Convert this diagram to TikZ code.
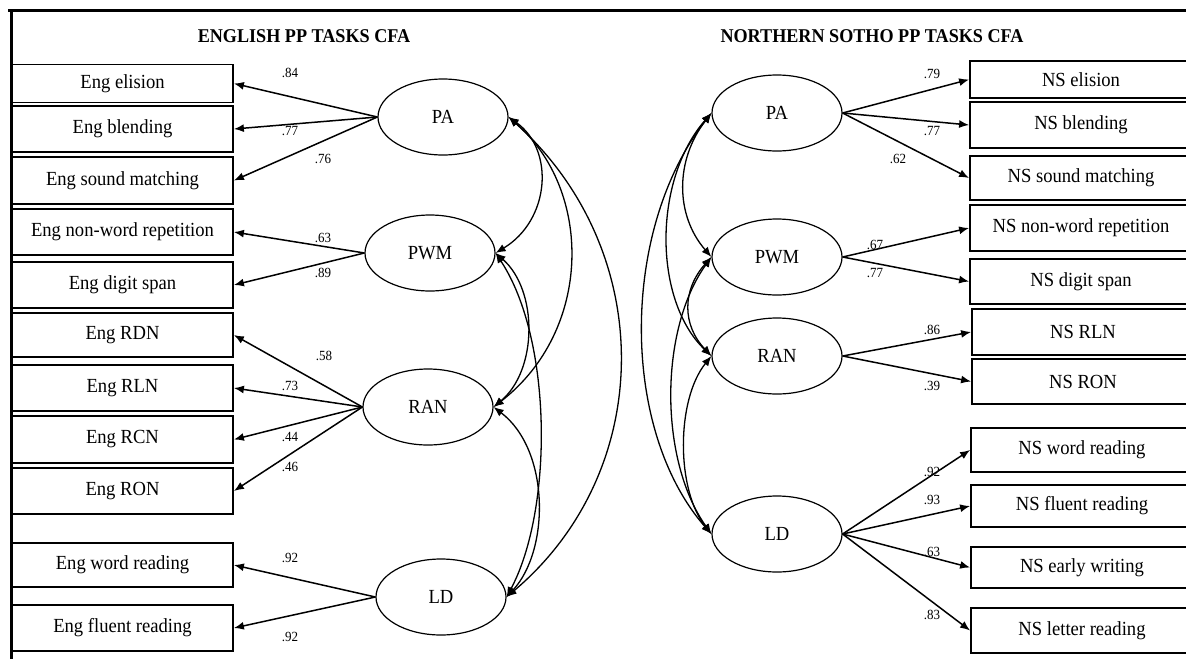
\documentclass[tikz,border=0pt]{standalone}
\usepackage{fontspec}
\setmainfont{Liberation Serif}[FakeStretch=0.93]
\usetikzlibrary{arrows.meta,shapes.geometric}
\begin{document}
\begin{tikzpicture}[x=1pt,y=1pt,
  obsbox/.style={draw,line width=1.8pt,minimum width=221pt,inner sep=0pt,font=\fontsize{20}{24}\selectfont},
  latent/.style={draw,ellipse,line width=1.2pt,minimum width=130pt,minimum height=76pt,inner sep=0pt,font=\fontsize{20}{24}\selectfont},
  loading/.style={line width=1.5pt,-{Latex[length=10pt,width=8pt]}},
  cov/.style={line width=1.3pt,{Latex[length=10pt,width=8pt]}-{Latex[length=10pt,width=8pt]}},
  coef/.style={inner sep=0pt,font=\fontsize{14}{16}\selectfont},
  heading/.style={inner sep=0pt,font=\fontsize{19.5}{23}\selectfont\bfseries}]
\useasboundingbox (0,0) rectangle (1186,-659);

% frame
\draw[line width=3pt] (8,-10) -- (1186,-10);
\draw[line width=3pt] (11,-10) -- (11,-659);

% headings
\node[heading] (tEng) at (304,-36) {ENGLISH PP TASKS CFA};
\node[heading] (tNS) at (872,-36) {NORTHERN SOTHO PP TASKS CFA};

% English indicators
\node[obsbox,minimum height=38pt] (e1) at (122.5,-83.5) {Eng elision};
\node[obsbox,minimum height=46pt] (e2) at (122.5,-129) {Eng blending};
\node[obsbox,minimum height=47pt] (e3) at (122.5,-180.5) {Eng sound matching};
\node[obsbox,minimum height=46pt] (e4) at (122.5,-232) {Eng non-word repetition};
\node[obsbox,minimum height=46pt] (e5) at (122.5,-285) {Eng digit span};
\node[obsbox,minimum height=44pt] (e6) at (122.5,-335) {Eng RDN};
\node[obsbox,minimum height=46pt] (e7) at (122.5,-388) {Eng RLN};
\node[obsbox,minimum height=47pt] (e8) at (122.5,-439.5) {Eng RCN};
\node[obsbox,minimum height=46pt] (e9) at (122.5,-491) {Eng RON};
\node[obsbox,minimum height=44pt] (e10) at (122.5,-565) {Eng word reading};
\node[obsbox,minimum height=46pt] (e11) at (122.5,-628) {Eng fluent reading};

% English factors
\node[latent] (PAL) at (443,-117) {PA};
\node[latent] (PWML) at (430,-253) {PWM};
\node[latent] (RANL) at (428,-407) {RAN};
\node[latent] (LDL) at (441,-597) {LD};

% Northern Sotho indicators
\node[obsbox,minimum width=222pt,minimum height=37pt] (n1) at (1081,-79.5) {NS elision};
\node[obsbox,minimum width=222pt,minimum height=46pt] (n2) at (1081,-125) {NS blending};
\node[obsbox,minimum width=222pt,minimum height=44pt] (n3) at (1081,-178) {NS sound matching};
\node[obsbox,minimum width=222pt,minimum height=46pt] (n4) at (1081,-228) {NS non-word repetition};
\node[obsbox,minimum width=222pt,minimum height=45pt] (n5) at (1081,-281.5) {NS digit span};
\node[obsbox,minimum width=222pt,minimum height=46pt] (n6) at (1083,-332) {NS RLN};
\node[obsbox,minimum width=222pt,minimum height=45pt] (n7) at (1083,-381.5) {NS RON};
\node[obsbox,minimum width=222pt,minimum height=44pt] (n8) at (1082,-450) {NS word reading};
\node[obsbox,minimum width=222pt,minimum height=42pt] (n9) at (1082,-506) {NS fluent reading};
\node[obsbox,minimum width=222pt,minimum height=41pt] (n10) at (1082,-567.5) {NS early writing};
\node[obsbox,minimum width=222pt,minimum height=45pt] (n11) at (1082,-630.5) {NS letter reading};

% Northern Sotho factors
\node[latent] (PAR) at (777,-113) {PA};
\node[latent] (PWMR) at (777,-257) {PWM};
\node[latent] (RANR) at (777,-356) {RAN};
\node[latent] (LDR) at (777,-534) {LD};

% English loadings
\draw[loading] (PAL.west) -- (e1.east);
\draw[loading] (PAL.west) -- (e2.east);
\draw[loading] (PAL.west) -- (e3.east);
\draw[loading] (PWML.west) -- (e4.east);
\draw[loading] (PWML.west) -- (e5.east);
\draw[loading] (RANL.west) -- (e6.east);
\draw[loading] (RANL.west) -- (e7.east);
\draw[loading] (RANL.west) -- (e8.east);
\draw[loading] (RANL.west) -- (e9.east);
\draw[loading] (LDL.west) -- (e10.east);
\draw[loading] (LDL.west) -- (e11.east);

% Northern Sotho loadings
\draw[loading] (PAR.east) -- (n1.west);
\draw[loading] (PAR.east) -- (n2.west);
\draw[loading] (PAR.east) -- (n3.west);
\draw[loading] (PWMR.east) -- (n4.west);
\draw[loading] (PWMR.east) -- (n5.west);
\draw[loading] (RANR.east) -- (n6.west);
\draw[loading] (RANR.east) -- (n7.west);
\draw[loading] (LDR.east) -- (n8.west);
\draw[loading] (LDR.east) -- (n9.west);
\draw[loading] (LDR.east) -- (n10.west);
\draw[loading] (LDR.east) -- (n11.west);

% English factor covariances
\draw[cov] (PAL.east) .. controls (555,-150) and (550,-220) .. (PWML.east);
\draw[cov] (PAL.east) .. controls (593,-190) and (593,-330) .. (RANL.east);
\draw[cov] (PAL.east) .. controls (657,-250) and (657,-470) .. (LDL.east);
\draw[cov] (PWML.east) .. controls (538,-290) and (538,-370) .. (RANL.east);
\draw[cov] (PWML.east) .. controls (553,-340) and (553,-510) .. (LDL.east);
\draw[cov] (RANL.east) .. controls (550,-450) and (550,-550) .. (LDL.east);

% Northern Sotho factor covariances
\draw[cov] (PAR.west) .. controls (675,-160) and (675,-215) .. (PWMR.west);
\draw[cov] (PAR.west) .. controls (653,-180) and (653,-300) .. (RANR.west);
\draw[cov] (PAR.west) .. controls (620,-230) and (620,-430) .. (LDR.west);
\draw[cov] (PWMR.west) .. controls (682,-290) and (682,-325) .. (RANR.west);
\draw[cov] (PWMR.west) .. controls (659,-330) and (659,-460) .. (LDR.west);
\draw[cov] (RANR.west) .. controls (676,-400) and (676,-490) .. (LDR.west);

% English coefficients
\node[coef] (c1) at (290,-73) {.84};
\node[coef] (c2) at (290,-131) {.77};
\node[coef] (c3) at (323,-159) {.76};
\node[coef] (c4) at (323,-238) {.63};
\node[coef] (c5) at (323,-273) {.89};
\node[coef] (c6) at (324,-356) {.58};
\node[coef] (c7) at (290,-386) {.73};
\node[coef] (c8) at (290,-437) {.44};
\node[coef] (c9) at (290,-467) {.46};
\node[coef] (c10) at (290,-558) {.92};
\node[coef] (c11) at (290,-637) {.92};

% Northern Sotho coefficients
\node[coef] (d1) at (932,-74) {.79};
\node[coef] (d2) at (932,-131) {.77};
\node[coef] (d3) at (898,-159) {.62};
\node[coef] (d4) at (875,-245) {.67};
\node[coef] (d5) at (875,-273) {.77};
\node[coef] (d6) at (932,-330) {.86};
\node[coef] (d7) at (932,-386) {.39};
\node[coef] (d8) at (932,-472) {.92};
\node[coef] (d9) at (932,-500) {.93};
\node[coef] (d10) at (932,-552) {.63};
\node[coef] (d11) at (932,-615) {.83};
\end{tikzpicture}
\end{document}
